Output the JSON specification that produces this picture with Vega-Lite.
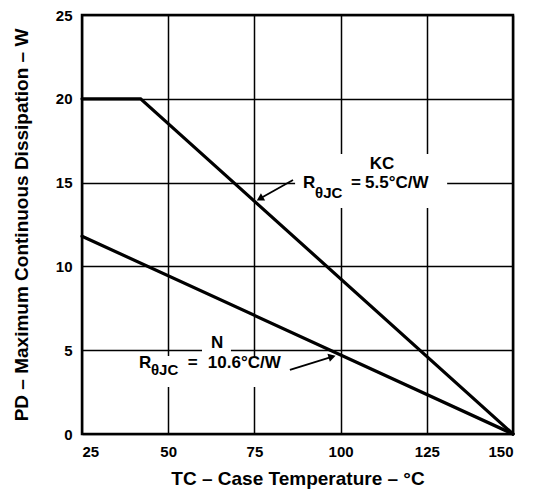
{
  "$schema": "https://vega.github.io/schema/vega-lite/v6.json",
  "width": 431,
  "height": 419,
  "autosize": "none",
  "padding": {"left": 82, "top": 15, "right": 21, "bottom": 58},
  "background": "white",
  "config": {
    "view": {"stroke": "black", "strokeWidth": 2.5},
    "font": "Liberation Sans",
    "axis": {
      "labelFont": "Liberation Sans",
      "labelFontWeight": "bold",
      "labelFontSize": 15,
      "labelColor": "black",
      "titleFont": "Liberation Sans",
      "titleFontWeight": "bold",
      "titleFontSize": 19,
      "titleColor": "black",
      "gridColor": "black",
      "gridWidth": 1.5,
      "gridOpacity": 1,
      "ticks": false,
      "domain": false
    }
  },
  "datasets": {
    "curves": [
      {"series": "KC", "x": 25, "y": 20},
      {"series": "KC", "x": 42, "y": 20},
      {"series": "KC", "x": 150, "y": 0},
      {"series": "N", "x": 25, "y": 11.8},
      {"series": "N", "x": 150, "y": 0}
    ],
    "boxes": [
      {"x": 86.8, "x2": 130.9, "y": 16.7, "y2": 13.48},
      {"x": 40.4, "x2": 85.3, "y": 4.65, "y2": 2.8},
      {"x": 59.8, "x2": 68.2, "y": 5.9, "y2": 4.53}
    ],
    "arrows": [
      {"id": "KC", "x": 86.2, "y": 15.16, "x2": 76.9, "y2": 14.08},
      {"id": "N", "x": 85.3, "y": 3.82, "x2": 97.2, "y2": 4.59}
    ],
    "headKC": [{"x": 76.9, "y": 14.08}],
    "headN": [{"x": 97.2, "y": 4.59}],
    "labelsCenter": [
      {"label": "KC", "x": 112.0, "y": 16.1},
      {"label": "N", "x": 64.2, "y": 5.4}
    ],
    "labelsLeft": [
      {"label": "R", "x": 89.1, "y": 14.98},
      {"label": "=", "x": 103.0, "y": 14.98},
      {"label": "5.5°C/W", "x": 107.1, "y": 14.98},
      {"label": "R", "x": 41.5, "y": 4.24},
      {"label": "=", "x": 55.7, "y": 4.24},
      {"label": "10.6°C/W", "x": 61.5, "y": 4.24}
    ],
    "labelsSub": [
      {"label": "θJC", "x": 92.6, "y": 14.38},
      {"label": "θJC", "x": 45.0, "y": 3.82}
    ]
  },
  "encoding": {
    "x": {
      "field": "x",
      "type": "quantitative",
      "scale": {"domain": [25, 150], "nice": false, "zero": false},
      "axis": {
        "values": [25, 50, 75, 100, 125, 150],
        "title": "TC – Case Temperature – °C",
        "labelPadding": 10,
        "titlePadding": 10
      }
    },
    "y": {
      "field": "y",
      "type": "quantitative",
      "scale": {"domain": [0, 25], "nice": false},
      "axis": {
        "values": [0, 5, 10, 15, 20, 25],
        "title": "PD – Maximum Continuous Dissipation – W",
        "labelPadding": 10,
        "titlePadding": 24
      }
    }
  },
  "layer": [
    {
      "data": {"name": "boxes"},
      "mark": {"type": "rect", "fill": "white", "stroke": null},
      "encoding": {"x2": {"field": "x2"}, "y2": {"field": "y2"}}
    },
    {
      "data": {"name": "curves"},
      "mark": {"type": "line", "color": "black", "strokeWidth": 3.2, "strokeCap": "round", "strokeJoin": "miter"},
      "encoding": {"detail": {"field": "series"}}
    },
    {
      "data": {"name": "arrows"},
      "mark": {"type": "rule", "color": "black", "strokeWidth": 1.8},
      "encoding": {"x2": {"field": "x2"}, "y2": {"field": "y2"}}
    },
    {
      "data": {"name": "headKC"},
      "mark": {"type": "point", "shape": "triangle", "filled": true, "color": "black", "opacity": 1, "size": 70, "angle": 240}
    },
    {
      "data": {"name": "headN"},
      "mark": {"type": "point", "shape": "triangle", "filled": true, "color": "black", "opacity": 1, "size": 70, "angle": 73}
    },
    {
      "data": {"name": "labelsCenter"},
      "mark": {"type": "text", "font": "Liberation Sans", "fontWeight": "bold", "fontSize": 17, "align": "center", "baseline": "middle", "color": "black"},
      "encoding": {"text": {"field": "label"}}
    },
    {
      "data": {"name": "labelsLeft"},
      "mark": {"type": "text", "font": "Liberation Sans", "fontWeight": "bold", "fontSize": 17, "align": "left", "baseline": "middle", "color": "black"},
      "encoding": {"text": {"field": "label"}}
    },
    {
      "data": {"name": "labelsSub"},
      "mark": {"type": "text", "font": "Liberation Sans", "fontWeight": "bold", "fontSize": 15, "align": "left", "baseline": "middle", "color": "black"},
      "encoding": {"text": {"field": "label"}}
    }
  ]
}
